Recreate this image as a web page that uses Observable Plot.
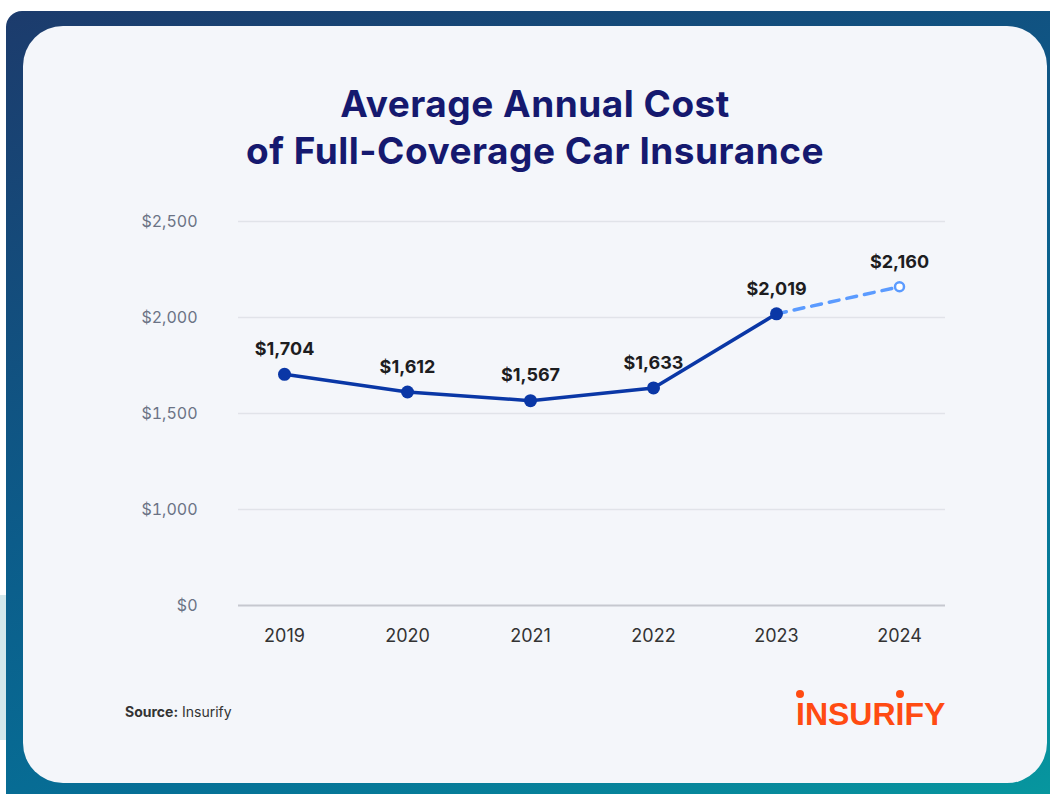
<!DOCTYPE html>
<html>
<head>
<meta charset="utf-8">
<script src="https://cdn.jsdelivr.net/npm/d3@7"></script>
<script src="https://cdn.jsdelivr.net/npm/@observablehq/plot@0.6"></script>
<style>
  html, body { margin: 0; padding: 0; width: 1050px; height: 794px; background: #ffffff; overflow: hidden; font-family: Inter, "Noto Sans", sans-serif; }
  #strip { position: absolute; left: 0; top: 595px; width: 8px; height: 145px; background: #d3e8ec; }
  #outer { position: absolute; left: 6px; top: 11px; width: 1060px; height: 800px; border-radius: 16px 0 0 14px;
           background: linear-gradient(160deg, #1c3b6c 0%, #0c5c8a 45%, #066f96 70%, #07999f 100%); }
  #card { position: absolute; left: 23px; top: 26px; width: 1024px; height: 757px; border-radius: 40px; background: #f4f6fa; }
  #title { position: absolute; left: 0; width: 1070px; top: 80px; text-align: center; color: #15196f; font-weight: 700; font-size: 37px; line-height: 47px; letter-spacing: 0.5px; }
  #chart { position: absolute; left: 0; top: 190px; }
  #source { position: absolute; left: 125px; top: 703px; font-size: 14px; color: #333; }
  #source b { font-weight: 700; }
  #logo { position: absolute; left: 796px; top: 696px; font-size: 32px; line-height: 36px; font-weight: 700; color: #ff4b12; font-family: "Liberation Sans", sans-serif; transform-origin: 0 0; transform: scaleX(1.0); white-space: nowrap; }
  #logo .i { position: relative; }
  #logo .i::before { content: ""; position: absolute; left: 50%; top: -6px; width: 8px; height: 8px; margin-left: -4px; border-radius: 50%; background: #ff4b12; }
</style>
</head>
<body>
<div id="strip"></div>
<div id="outer"></div>
<div id="card"></div>
<div id="title">Average Annual Cost<br>of Full-Coverage Car Insurance</div>
<div id="chart"></div>
<div id="source"><b>Source:</b> Insurify</div>
<div id="logo"><span class="i">I</span>NSUR<span class="i">I</span>FY</div>
<script>
const years = ["2019", "2020", "2021", "2022", "2023", "2024"];
const costs = [1704, 1612, 1567, 1633, 2019, 2160];
const actualYears = ["2019", "2020", "2021", "2022", "2023"];
const projectedYears = ["2023", "2024"];
// axis is broken: "$0" sits one step below $1,000
const yTicks = [500, 1000, 1500, 2000, 2500];
const yTickLabels = ["$0", "$1,000", "$1,500", "$2,000", "$2,500"];

const data = years.map((y, i) => ({year: y, cost: costs[i], label: "$" + d3.format(",")(costs[i])}));
const actual = data.filter(d => actualYears.includes(d.year));
const projected = data.filter(d => projectedYears.includes(d.year));
const last = data.filter(d => d.year === "2024");

const chart = Plot.plot({
  width: 1050,
  height: 470,
  marginLeft: 238,
  marginRight: 105,
  marginTop: 31,
  marginBottom: 55,
  style: {background: "transparent", fontFamily: "Inter, 'Noto Sans', sans-serif"},
  x: {type: "point", domain: years, padding: 0.37, label: null},
  y: {domain: [500, 2500], label: null},
  marks: [
    Plot.ruleY(yTicks.filter(v => v > 500), {stroke: "#e1e3e9", strokeWidth: 1.5}),
    Plot.ruleY([500], {stroke: "#c6c8cf", strokeWidth: 2}),
    Plot.axisY({ticks: yTicks, tickSize: 0, tickPadding: 41, tickFormat: v => yTickLabels[yTicks.indexOf(v)], fontSize: 16, fill: "#6b7385"}),
    Plot.axisX({tickSize: 0, tickPadding: 24, fontSize: 18, fill: "#333"}),
    Plot.line(projected, {x: "year", y: "cost", stroke: "#5b9bff", strokeWidth: 3.5, strokeDasharray: "10,8"}),
    Plot.line(actual, {x: "year", y: "cost", stroke: "#0a37a6", strokeWidth: 3.5}),
    Plot.dot(actual, {x: "year", y: "cost", r: 6.5, fill: "#0a37a6"}),
    Plot.dot(last, {x: "year", y: "cost", r: 4.5, fill: "#ffffff", stroke: "#5b9bff", strokeWidth: 2.5}),
    Plot.text(data, {x: "year", y: "cost", text: "label", dy: -25, fontSize: 18, fontWeight: 700, fill: "#1d1d1f"})
  ]
});
document.getElementById("chart").appendChild(chart);
</script>
</body>
</html>
